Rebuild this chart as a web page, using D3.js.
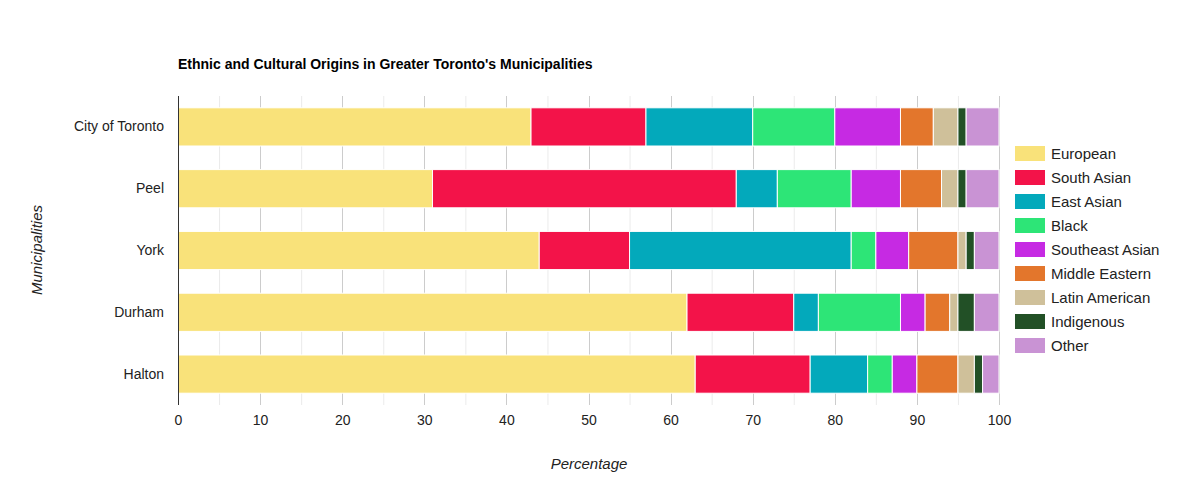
<!DOCTYPE html>
<html><head><meta charset="utf-8">
<script src="https://cdn.jsdelivr.net/npm/d3@7"></script>
<style>body{margin:0;background:#fff;}svg{font-family:"Liberation Sans",Arial,sans-serif;}</style>
</head><body>
<script>
const municipalities = ["City of Toronto","Peel","York","Durham","Halton"];
const groups = ["European","South Asian","East Asian","Black","Southeast Asian","Middle Eastern","Latin American","Indigenous","Other"];
const colors = ["#f9e27a","#f31349","#03a9bb","#2de577","#c62ae3","#e3762c","#cfc09a","#225026","#c993d4"];
const european       = [43,31,44,62,63];
const southAsian     = [14,37,11,13,14];
const eastAsian      = [13,5,27,3,7];
const black          = [10,9,3,10,3];
const southeastAsian = [8,6,4,3,3];
const middleEastern  = [4,5,6,3,5];
const latinAmerican  = [3,2,1,1,2];
const indigenous     = [1,1,1,2,1];
const other          = [4,4,3,3,2];
const xTicks = [0,10,20,30,40,50,60,70,80,90,100];

const series = [european,southAsian,eastAsian,black,southeastAsian,middleEastern,latinAmerican,indigenous,other];
const rows = municipalities.map((m,i)=>{const o={name:m};groups.forEach((g,j)=>o[g]=series[j][i]);return o;});

const W=1178,H=500;
const L=178,R=999,T=96,B=405;
const svg=d3.select("body").append("svg").attr("width",W).attr("height",H);
const x=d3.scaleLinear().domain([0,100]).range([L,R]);
const y=d3.scaleBand().domain(municipalities).range([T,B]).paddingInner(0.382).paddingOuter(0.191);

// minor grid
svg.append("g").selectAll("line").data(d3.range(5,100,10)).join("line")
  .attr("x1",d=>x(d)+0.5).attr("x2",d=>x(d)+0.5).attr("y1",T).attr("y2",B)
  .attr("stroke","#ebebeb");
// major grid
svg.append("g").selectAll("line").data(xTicks.slice(1)).join("line")
  .attr("x1",d=>Math.round(x(d))+0.5).attr("x2",d=>Math.round(x(d))+0.5).attr("y1",T).attr("y2",B)
  .attr("stroke","#cccccc");

const stack=d3.stack().keys(groups)(rows);
svg.append("g").selectAll("g").data(stack).join("g").attr("fill",(d,i)=>colors[i])
  .selectAll("rect").data(d=>d).join("rect")
  .attr("x",d=>x(d[0])).attr("width",d=>x(d[1])-x(d[0]))
  .attr("y",d=>y(d.data.name)).attr("height",y.bandwidth())
  .attr("stroke","#fff").attr("stroke-width",1);

// baseline
svg.append("line").attr("x1",L+0.5).attr("x2",L+0.5).attr("y1",T).attr("y2",B).attr("stroke","#333");

// x axis labels
const xa=d3.axisBottom(x).tickValues(xTicks).tickSize(0).tickPadding(0);
const gx=svg.append("g").attr("transform",`translate(0,${B})`).call(xa);
gx.select(".domain").remove();
gx.selectAll("text").attr("font-size",14).attr("fill","#222").attr("dy",0).attr("y",20).attr("font-family","Liberation Sans, Arial, sans-serif");

// y axis labels
const ya=d3.axisLeft(y).tickSize(0).tickPadding(14);
const gy=svg.append("g").attr("transform",`translate(${L},0)`).call(ya);
gy.select(".domain").remove();
gy.selectAll("text").attr("font-size",14).attr("fill","#222").attr("font-family","Liberation Sans, Arial, sans-serif");

// title
svg.append("text").attr("x",178).attr("y",69).attr("font-size",14).attr("font-weight","bold").attr("fill","#000")
  .text("Ethnic and Cultural Origins in Greater Toronto's Municipalities");
// axis titles
svg.append("text").attr("x",589).attr("y",469).attr("text-anchor","middle").attr("font-size",15).attr("font-style","italic").attr("fill","#222").text("Percentage");
svg.append("text").attr("transform","translate(42,250) rotate(-90)").attr("text-anchor","middle").attr("font-size",15).attr("font-style","italic").attr("fill","#222").text("Municipalities");

// legend
const lg=svg.append("g").selectAll("g").data(groups).join("g").attr("transform",(d,i)=>`translate(1015,${146+i*24})`);
lg.append("rect").attr("width",30).attr("height",15).attr("fill",(d,i)=>colors[i]);
lg.append("text").attr("x",36).attr("y",13).attr("font-size",15).attr("fill","#222").text(d=>d);
</script>
</body></html>
